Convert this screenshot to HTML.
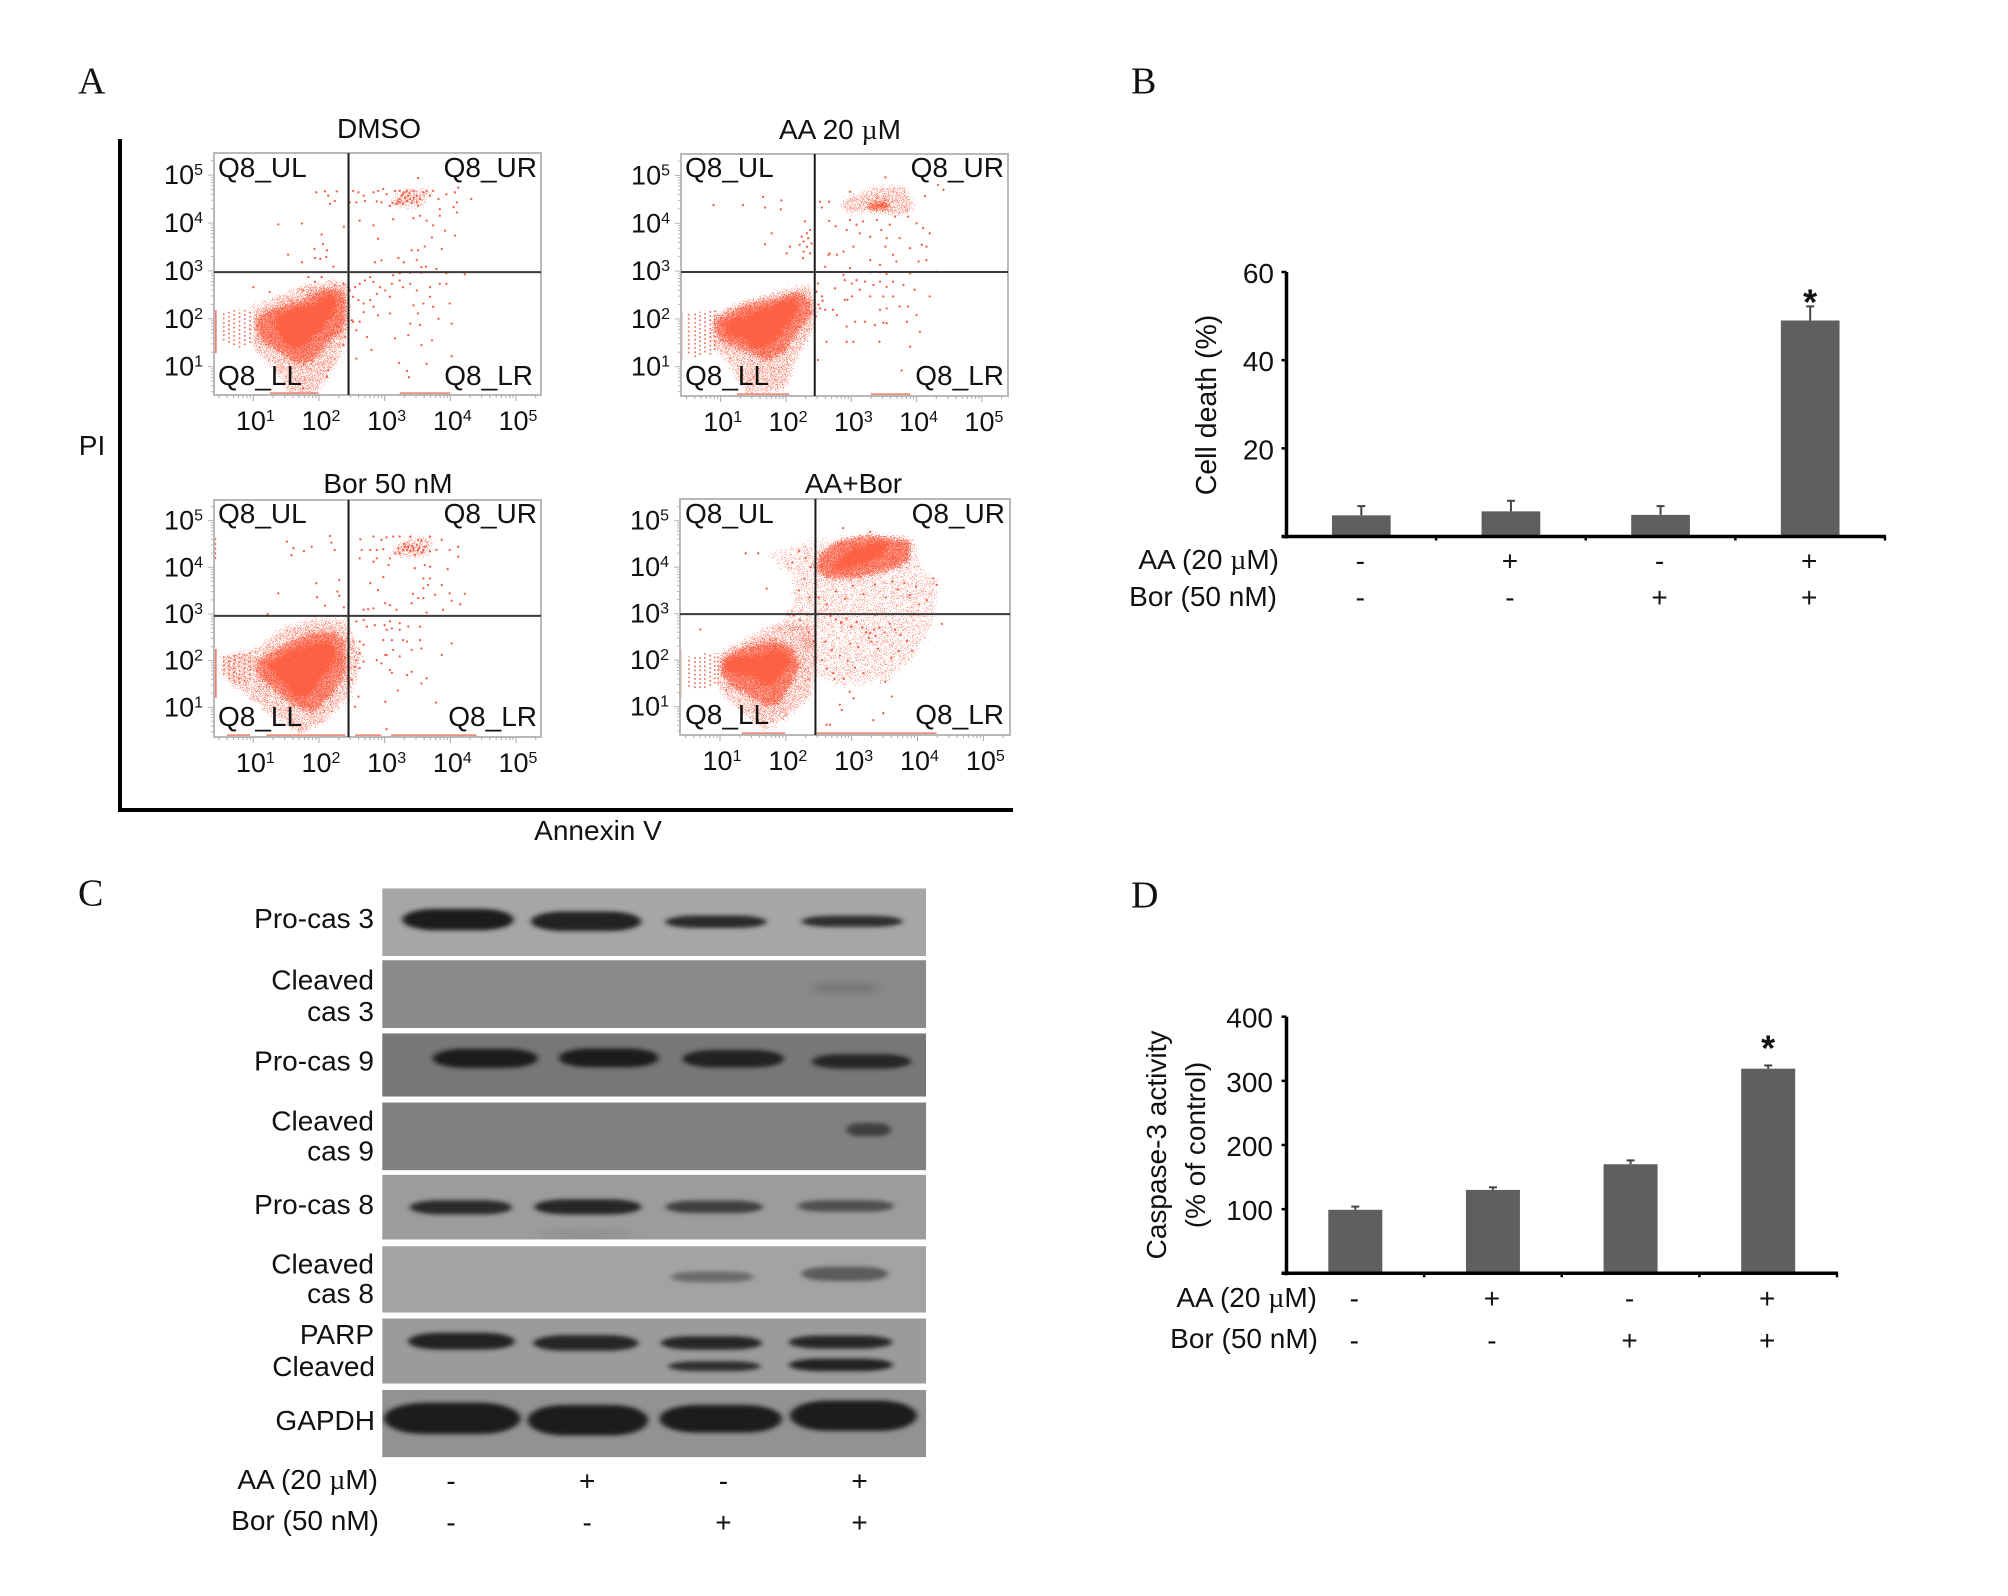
<!DOCTYPE html>
<html lang="en">
<head>
<meta charset="utf-8">
<title>Flow cytometry, cell death, immunoblot and caspase-3 activity figure</title>
<style>
html,body{margin:0;padding:0;background:#fff;}
svg{display:block;}
text{font-family:"Liberation Sans",sans-serif;fill:#111;}
.letter{font-family:"Liberation Serif",serif;font-size:38px;}
.t27{font-size:27px;}
.t28{font-size:28px;}
.end{text-anchor:end;}
.mid{text-anchor:middle;}
.mu{font-family:"Liberation Serif",serif;}
</style>
</head>
<body>
<svg id="figure" xmlns="http://www.w3.org/2000/svg" width="2008" height="1596" viewBox="0 0 2008 1596">
<defs>
<pattern id="grain-dense" width="7" height="7" patternUnits="userSpaceOnUse">
<rect width="7" height="7" fill="#ffc4b8"/>
<circle cx="1" cy="1.5" r="1.4" fill="#fa5c42"/><circle cx="4.5" cy="0.8" r="1.4" fill="#fa5c42"/><circle cx="2.8" cy="4" r="1.4" fill="#fa5c42"/><circle cx="6" cy="3.6" r="1.4" fill="#fa5c42"/><circle cx="0.8" cy="6" r="1.4" fill="#fa5c42"/><circle cx="4.6" cy="6.2" r="1.4" fill="#fa5c42"/>
</pattern>
<pattern id="grain-fringe" width="11" height="10" patternUnits="userSpaceOnUse">
<circle cx="1" cy="2" r="1.15" fill="#f4664e"/><circle cx="5" cy="1" r="1.15" fill="#f4664e"/><circle cx="9" cy="3" r="1.15" fill="#f4664e"/><circle cx="3" cy="5" r="1.15" fill="#f4664e"/><circle cx="7" cy="6" r="1.15" fill="#f4664e"/><circle cx="1.5" cy="8.5" r="1.15" fill="#f4664e"/><circle cx="5" cy="9" r="1.15" fill="#f4664e"/><circle cx="9.6" cy="8" r="1.15" fill="#f4664e"/>
</pattern>
<pattern id="grain-field" width="17" height="15" patternUnits="userSpaceOnUse">
<circle cx="2" cy="3" r="1.2" fill="#f0644e"/><circle cx="9" cy="1" r="1.2" fill="#f0644e"/><circle cx="14" cy="5" r="1.2" fill="#f0644e"/><circle cx="6" cy="7" r="1.2" fill="#f0644e"/><circle cx="11" cy="9" r="1.2" fill="#f0644e"/><circle cx="1" cy="11" r="1.2" fill="#f0644e"/><circle cx="15" cy="13" r="1.2" fill="#f0644e"/><circle cx="7" cy="13" r="1.2" fill="#f0644e"/>
</pattern>
<filter id="band-blur" x="-20%" y="-60%" width="140%" height="220%"><feGaussianBlur stdDeviation="5"/></filter>
<filter id="faint-blur" x="-30%" y="-100%" width="160%" height="300%"><feGaussianBlur stdDeviation="9"/></filter>
<filter id="speckle" x="-10%" y="-10%" width="120%" height="120%" color-interpolation-filters="sRGB">
<feTurbulence type="fractalNoise" baseFrequency="0.85" numOctaves="2" seed="4" result="noise"/>
<feDisplacementMap in="SourceGraphic" in2="noise" scale="18" xChannelSelector="R" yChannelSelector="G"/>
</filter>
</defs>

<text class="letter" x="78" y="93.5">A</text>
<text class="letter" x="1131" y="93.5">B</text>
<text class="letter" x="78" y="905.5">C</text>
<text class="letter" x="1131" y="907.5">D</text>

<g id="panel-a"></g>
<text class="t28 mid" x="379" y="138">DMSO</text>
<text class="t28 mid" x="840" y="139">AA 20 <tspan class="mu">µ</tspan>M</text>
<text class="t28 mid" x="388" y="493">Bor 50 nM</text>
<text class="t28 mid" x="853.5" y="493">AA+Bor</text>
<rect x="118" y="139" width="4" height="673" fill="#000"/>
<rect x="118" y="808" width="895" height="4" fill="#000"/>
<text class="t28 mid" x="92" y="455">PI</text>
<text class="t28 mid" x="598" y="840">Annexin V</text>

<g id="panel-b"></g>
<text class="t28 mid" style="font-size:28.5px" transform="translate(1216 405) rotate(-90)">Cell death (%)</text>
<text class="t28 end" x="1279" y="569">AA (20 <tspan class="mu">µ</tspan>M)</text>
<text class="t28 end" x="1277" y="606">Bor (50 nM)</text>

<g id="panel-c"></g>
<g>
<text class="t28 end" x="374" y="928">Pro-cas 3</text>
<text class="t28 end" x="374" y="989.5">Cleaved</text>
<text class="t28 end" x="374" y="1021">cas 3</text>
<text class="t28 end" x="374" y="1070.5">Pro-cas 9</text>
<text class="t28 end" x="374" y="1130.5">Cleaved</text>
<text class="t28 end" x="374" y="1160.5">cas 9</text>
<text class="t28 end" x="374" y="1214">Pro-cas 8</text>
<text class="t28 end" x="374" y="1273.5">Cleaved</text>
<text class="t28 end" x="374" y="1303">cas 8</text>
<text class="t28 end" x="374" y="1344">PARP</text>
<text class="t28 end" x="375" y="1376">Cleaved</text>
<text class="t28 end" x="375" y="1430">GAPDH</text>
<text class="t28 end" x="378" y="1489">AA (20 <tspan class="mu">µ</tspan>M)</text>
<text class="t28 end" x="379" y="1530">Bor (50 nM)</text>
</g>

<g id="panel-d"></g>
<text class="t28 mid" transform="translate(1166 1145) rotate(-90)">Caspase-3 activity</text>
<text class="t28 mid" transform="translate(1205 1145) rotate(-90)">(% of control)</text>
<text class="t28 end" x="1317" y="1307">AA (20 <tspan class="mu">µ</tspan>M)</text>
<text class="t28 end" x="1318" y="1348">Bor (50 nM)</text>
</svg>

<script>
// ---- Flow cytometry values: every coordinate is [log10 Annexin V, log10 PI] ----
const tickExponents = [1, 2, 3, 4, 5];
const quadrantNames = ['Q8_UL', 'Q8_UR', 'Q8_LL', 'Q8_LR'];

const dmsoCore = [[1.33,2.04],[1.66,2.25],[1.91,2.32],[2.14,2.52],[2.29,2.39],[2.24,2.11],[2.07,1.83],[1.91,1.62],[1.76,1.38],[1.56,1.38],[1.41,1.62],[1.33,1.83]];
const dmsoHalo = [[1.05,2.04],[1.36,2.25],[1.71,2.39],[2.07,2.63],[2.37,2.59],[2.42,2.25],[2.38,1.75],[2.12,1.5],[1.92,1.1],[1.66,1.05],[1.41,1.3],[1.15,1.49],[1.05,1.76]];
const dmsoFringe = [[1,2.25],[1.71,2.66],[2.22,2.8],[2.45,2.73],[2.47,1.83],[2.32,1.21],[1.96,0.45],[1.56,0.45],[1.3,1],[1,1.42]];
const dmsoCluster = [[3.05,4.4],[3.3,4.7],[3.7,4.7],[3.6,4.38],[3.2,4.33]];
const dmsoColumns = [[0.55,1.55,2.12],[0.63,1.5,2.15],[0.71,1.45,2.18],[0.79,1.4,2.2],[0.87,1.45,2.2],[0.95,1.5,2.18]];
const dmsoLeftRug = [0.42,1.28,2.18];
const dmsoBottomRug = [[1.25,1.99],[3.23,4.0]];
const dmsoPoints = [[1.96,4.64],[2.09,4.66],[2.14,4.57],[2.27,4.66],[2.24,4.46],[2.17,4.4],[2.45,4.64],[2.52,4.67],[2.47,4.43],[2.6,4.64],[2.68,4.57],[2.57,4.43],[2.7,4.46],[2.83,4.64],[2.9,4.67],[2.98,4.71],[2.88,4.45],[3.03,4.6],[2.95,4.43],[3.08,4.36],[3.18,4.4],[3.23,4.43],[3.28,4.4],[3.16,4.67],[3.23,4.67],[3.28,4.6],[3.34,4.67],[3.36,4.57],[3.39,4.5],[3.44,4.67],[3.49,4.57],[3.54,4.5],[3.51,4.36],[3.59,4.64],[3.64,4.67],[3.69,4.57],[3.74,4.67],[3.82,4.5],[3.84,4.29],[3.94,4.6],[4.07,4.64],[4.12,4.74],[4.32,4.5],[4.1,4.43],[4.05,4.33],[4.1,4.22],[3.51,4.94],[3.26,4.57],[3.31,4.53],[3.34,4.46],[3.23,4.5],[3.44,4.53],[3.49,4.43],[3.3,4.64],[3.38,4.62],[3.2,4.45],[3.12,4.42],[3.41,4.42],
[2.62,4.05],[3.13,4.08],[3.44,4.1],[3.54,4.15],[3.64,4.05],[3.74,3.95],[3.84,4.15],[3.92,3.84],[4.07,3.74],[3.72,3.7],[2.9,3.67],[2.83,3.95],[3.41,3.43],[3.51,3.43],[3.61,3.51],[3.87,3.46],[3.21,3.27],[3.29,3.18],[3.49,3.23],[2.95,3.22],[2.85,3.18],[3.56,3.08],[3.63,3.09],[3.79,3.04],
[3.23,2.95],[3.39,2.96],[3.56,2.96],[3.94,2.95],[4.22,2.93],[3.13,2.91],[2.78,2.97],
[1.38,3.97],[1.74,3.99],[2.04,3.76],[2.06,3.56],[1.93,3.46],[2.12,3.43],[1.53,3.34],[1.94,3.27],[2.02,3.25],[2.11,3.29],[1.74,3.18],[2.22,3.09],[2.38,3.92],
[2.55,2.66],[2.62,2.73],[2.7,2.8],[2.78,2.87],[2.83,2.77],[2.47,2.59],[2.52,2.46],[2.6,2.39],[2.68,2.32],[2.78,2.39],[2.88,2.52],[3.01,2.59],[3.08,2.46],[2.93,2.66],[3.11,2.73],[3.23,2.8],[3.28,2.66],[3.39,2.73],[3.49,2.59],[3.69,2.66],[3.84,2.73],[3.94,2.73],[3.69,2.46],[3.59,2.32],[3.44,2.28],[3.51,2.11],[3.74,2.25],[3.99,2.32],[3.82,2],[4.02,1.9],[3.39,1.9],[3.54,1.87],[3.08,2.11],[2.9,2.07],[2.68,2.14],[2.62,1.94],[2.52,1.94],[2.83,2.25],[3.16,1.59],[3.36,1.66],[3.72,1.55],[2.8,1.35],[2.57,1.17],[3.22,1.08],[3.34,0.91],[3.37,0.78],[3.64,1.06],[4.02,1.22],[3.56,1.45],[2.73,1.62],[2.57,1.76],
[2.45,2.39],[2.45,2.18],[2.5,1.97],[2.4,1.62],[2.37,1.45],[2.37,2.73],[2.24,2.7],[1,2.66],[1.25,2.56],[1.84,2.87],[1.94,2.77],[2.04,2.87],[1.76,2.59],[1.76,0.55],[2.14,0.93],[2.12,0.79]];

const aaCore = [[1.04,1.91],[1.3,2.05],[1.6,2.19],[1.86,2.33],[2.14,2.43],[2.19,2.19],[2.01,1.84],[1.86,1.56],[1.7,1.38],[1.5,1.38],[1.32,1.59],[1.09,1.66]];
const aaHalo = [[0.91,1.98],[1.35,2.29],[1.76,2.4],[2.19,2.57],[2.37,2.4],[2.39,2.12],[2.21,1.77],[1.96,1.28],[1.7,1.14],[1.4,1.31],[1.09,1.49],[0.91,1.7]];
const aaFringe = [[0.91,2.12],[1.45,2.4],[1.96,2.6],[2.37,2.67],[2.47,2.26],[2.42,1.84],[2.11,1],[1.96,0.55],[1.4,0.44],[1.09,1.14],[0.84,1.49]];
const aaClusterHalo = [[2.83,4.42],[3.23,4.7],[3.8,4.77],[3.97,4.38],[3.8,4.17],[3.29,4.24],[2.88,4.24]];
const aaClusterCore = [[3.23,4.38],[3.44,4.45],[3.59,4.42],[3.57,4.31],[3.29,4.29]];
const aaColumns = [[0.51,1.28,2.12],[0.61,1.2,2.15],[0.68,1.25,2.15],[0.76,1.3,2.18],[0.84,1.25,2.18],[0.91,1.35,2.18]];
const aaLeftRug = [0.39,1.14,2.15];
const aaBottomRug = [[1.25,2.05],[3.3,3.9]];
const aaPoints = [[3.52,4.96],[4.33,4.8],[4.41,4.7],[4.13,4.57],[2.98,4.66],[2.52,4.45],[2.55,4.33],[2.66,4.45],[2.66,4.05],[2.76,3.94],[2.93,3.86],[2.98,4.07],[3.08,3.97],[3.18,4.04],[3.39,4.07],[3.46,3.86],[3.59,3.97],[3.67,4.14],[3.87,4.14],[4,4],[4.1,3.9],[4.2,3.79],[3.74,3.69],[3.54,3.69],[3.29,3.72],[3.13,3.79],[3.03,3.51],[2.88,3.41],[2.67,3.37],[2.78,3.34],[3.52,3.51],[3.64,3.34],[3.9,3.48],[4.08,3.55],[4.15,3.51],[3.29,3.23],[3.44,3.13],[3.69,3.2],[4.03,3.2],[4.15,3.23],[2.6,3.09],[2.98,3.06],[2.65,3.34],
[0.89,4.38],[1.34,4.38],[1.65,4.55],[1.68,4.33],[1.93,4.48],[1.92,4.29],[1.78,3.79],[1.68,3.56],[2.06,3.51],[2.01,3.37],[2.29,4.04],[2.37,3.86],[2.32,3.79],[2.24,3.72],[2.34,3.69],[2.27,3.62],[2.21,3.55],[2.32,3.51],[2.27,3.41],[2.37,3.37],[2.26,3.27],[2.39,3.58],[0.39,4.33],
[3.29,2.97],[3.44,2.97],[3.54,2.94],[3.9,2.95],[4.31,2.99],[2.88,2.92],
[2.49,2.74],[2.55,2.47],[2.47,2.57],[2.6,2.19],[2.72,2.19],[2.75,2.64],[2.9,2.81],[3.01,2.74],[3.08,2.81],[3.21,2.78],[3.34,2.71],[3.44,2.78],[3.54,2.67],[3.64,2.78],[3.8,2.71],[3.97,2.61],[4.2,2.47],[2.9,2.4],[3.01,2.47],[3.13,2.61],[3.29,2.47],[3.49,2.47],[3.64,2.47],[3.74,2.26],[3.87,2.26],[3.54,2.22],[3.44,2.19],[4,2.08],[3.85,1.94],[3.54,1.91],[3.36,1.87],[3.21,1.94],[3.06,1.94],[2.93,1.84],[2.78,2.08],[2.93,1.52],[3.03,1.52],[3.43,1.52],[3.9,1.42],[4.05,1.73],[2.62,1.52],[2.49,1.14],[3.77,0.92],[3.49,1.92],[2.94,2.4],[2.5,2.3],[2.52,2.22],[2.56,2.38],[2.46,2.05]];

const borCore = [[1.18,1.91],[1.41,2.09],[1.66,2.26],[1.86,2.34],[2.14,2.44],[2.27,2.23],[2.24,1.94],[2.07,1.69],[1.96,1.44],[1.81,1.19],[1.63,1.23],[1.48,1.51],[1.3,1.73]];
const borHalo = [[1.05,1.98],[1.41,2.3],[1.86,2.59],[2.22,2.62],[2.4,2.44],[2.42,1.8],[2.22,1.3],[1.91,0.87],[1.56,1.09],[1.2,1.51],[1.03,1.8]];
const borFringe = [[0.54,2.09],[1.05,2.23],[1.41,2.66],[1.91,2.87],[2.42,2.87],[2.62,2.09],[2.52,1.37],[2.12,0.73],[1.71,0.44],[1.2,0.94],[0.8,1.37],[0.54,1.66]];
const borCluster = [[3.1,4.32],[3.4,4.62],[3.75,4.6],[3.65,4.25],[3.3,4.22]];
const borColumns = [[0.55,1.7,2.1],[0.63,1.6,2.12],[0.71,1.55,2.14],[0.79,1.5,2.16],[0.87,1.55,2.18],[0.95,1.6,2.2]];
const borLeftRug = [0.42,1.2,2.25];
const borBottomRug = [[0.6,0.95],[1.2,2.4],[2.55,2.95],[3.1,4.4]];
const borPoints = [[2.63,4.6],[2.65,4.37],[2.62,4.19],[2.78,4.37],[2.88,4.37],[2.98,4.39],[2.83,4.66],[2.95,4.59],[3.03,4.64],[3.13,4.66],[3.23,4.66],[3.39,4.66],[3.51,4.59],[3.69,4.66],[3.87,4.59],[4.12,4.44],[4.12,4.23],[3.99,4.37],[3.79,4.37],[3.69,4.34],[3.59,4.37],[3.51,4.37],[3.44,4.41],[3.36,4.44],[3.28,4.37],[3.21,4.41],[3.16,4.3],[3.08,4.19],[3.06,4.05],[2.88,4.19],[2.83,4.12],[3.31,4.44],[3.44,4.36],[3.49,4.48],[3.56,4.57],[3.61,4.44],[3.39,4.34],[3.46,4.26],[3.23,4.3],[3.46,3.98],[3.61,4.05],[3.69,4.01],[3.96,3.96],[3.59,3.76],[3.69,3.76],[3.66,3.62],[3.59,3.55],[3.87,3.62],[3.43,3.43],[3.51,3.34],[3.59,3.34],[3.77,3.41],[3.99,3.44],[4.22,3.43],[4.02,3.28],[4.15,3.21],[3.41,3.23],[3.89,3.09],[2.98,3.79],[2.78,3.66],[2.9,3.51],[3.08,3.19],[3.01,3.23],[2.68,3.09],[2.75,3.1],[2.83,3.12],[3.18,3.09],[3.64,3.03],[3.34,4.38],[3.42,4.46],[3.3,4.5],[3.53,4.42],[3.57,4.32],
[1.51,4.55],[1.61,4.41],[1.58,4.26],[1.77,4.35],[1.89,4.44],[2.17,4.67],[2.19,4.53],[2.24,4.37],[1.38,3.44],[1.96,3.66],[1.97,3.36],[2.09,3.18],[2.31,3.73],[2.28,3.48],[2.31,3.39],[2.38,3.14],[1.22,3],[0.42,4.6],[0.42,4.5],[0.42,4.4],[0.42,4.3],[0.42,4.2],
[2.68,2.87],[2.73,2.73],[2.85,2.76],[2.57,2.84],[3,2.76],[3.08,2.84],[3.23,2.8],[3.03,2.66],[3.11,2.69],[3.23,2.66],[3.36,2.73],[3.54,2.73],[2.98,2.44],[3.11,2.44],[3.28,2.44],[3.34,2.41],[3.54,2.44],[3.56,2.26],[3.41,2.23],[3.13,2.23],[3.03,2.12],[3.23,2.09],[3.01,2.12],[3.87,2.12],[4.02,2.37],[2.88,2.01],[2.95,1.94],[3.08,1.8],[3.11,1.74],[3.34,1.69],[3.41,1.76],[3.56,1.51],[3.64,1.62],[3.2,1.36],[3.01,1.12],[3.78,1.1],[3.03,0.53],[2.62,2.41],[2.68,2.34],[2.62,2.16],[2.57,2.01],[2.68,1.98],[2.55,1.87],[2.62,1.84],[2.5,1.59],[2.6,1.23],[2.55,1.01],[2.45,2.09]];

const comboCore = [[1.05,2],[1.33,2.11],[1.63,2.11],[1.86,2.25],[2.04,2.14],[2.06,1.93],[1.94,1.68],[1.81,1.47],[1.71,1.43],[1.53,1.61],[1.33,1.68],[1.08,1.75]];
const comboHalo = [[1.03,2.04],[1.38,2.29],[1.81,2.43],[2.11,2.29],[2.22,1.93],[2.11,1.57],[1.91,1.07],[1.71,1],[1.46,1.22],[1.2,1.43],[1,1.72]];
const comboFringe = [[1,2.15],[1.46,2.51],[1.91,2.79],[2.37,2.79],[2.47,2.08],[2.37,1.22],[1.96,0.71],[1.66,0.5],[1.25,1],[1,1.36]];
const comboClusterCore = [[2.72,4.05],[3.03,4.44],[3.28,4.51],[3.58,4.58],[3.53,4.33],[3.28,4.12],[2.97,3.97],[2.72,3.94]];
const comboClusterHalo = [[2.52,4.3],[2.82,4.58],[3.28,4.69],[3.89,4.58],[3.89,4.15],[3.58,3.94],[3.08,3.76],[2.62,3.76],[2.47,3.94]];
const comboField = [[1.76,4.23],[2.37,4.58],[3.94,4.62],[4.09,3.8],[4.29,3.72],[4.29,3.15],[4.14,2.58],[3.89,2],[3.53,1.57],[2.82,1.43],[2.47,1.65],[2.37,2.22],[1.96,2.79],[2.11,3.37],[2.11,3.8]];
const comboColumns = [[0.53,1.43,2.08],[0.62,1.4,2.1],[0.7,1.4,2.12],[0.77,1.4,2.15],[0.85,1.45,2.15],[0.92,1.5,2.15],[0.97,1.5,2.15]];
const comboLeftRug = [0.39,1.18,2.22];
const comboBottomRug = [[1.33,1.99],[2.47,4.29]];
const comboPoints = [[3.28,4.76],[2.87,4.84],[1.58,4.3],[1.39,4.3],[1.71,3.54],[0.39,3.54],[0.7,2.66],[4.37,2.78],[4.24,3.76],[4.29,3.62],[4.14,3.29],[3.61,1.22],[3.48,0.86],[3.33,0.71],[2.97,1.32],[3.03,1.18],[2.82,1.04],[2.85,0.93],[2.62,0.61],[2.67,0.61],[3.51,1.54],[2.72,1.72],
[2.68,2.95],[2.76,2.88],[2.84,2.82],[2.92,2.9],[3,2.72],[3.08,2.82],[3.16,2.7],[3.22,2.6],[3.28,2.58],[3.34,2.66],[3.26,2.48],[3.3,2.4],[3.36,2.52],[3.42,2.7],[3.5,2.6],[3.58,2.78],[3.66,2.66],[3.74,2.54],[3.84,2.42],[3.92,2.2],[2.6,2.4],[2.7,2.22],[2.82,2.1],[2.94,1.98],[3.05,1.84],[3.18,1.72],[2.55,2],[2.62,1.82],[2.74,1.6],[2.88,1.6],[3.4,2.25],[3.6,2.05],[3.72,2.2],[3.1,2.28],[2.98,2.36],[2.5,3.35],[2.62,3.2],[2.76,3.48],[2.9,3.32],[3.02,3.6],[3.18,3.42],[3.35,3.62],[3.52,3.35],[3.7,3.52],[3.88,3.4],[4.02,3.2],[3.62,3.7],[3.8,3.66],[3.98,3.58],[2.2,3.5],[2.28,3.75],[2.36,3.35],[2.3,4.2],[2.38,4],[2.2,4.35],[2.1,4.1],[2.32,2.98],[2.22,2.86],[2.12,2.96],[2.35,2.6],[2.42,2.4],[2.45,1.95]];

// ---- Bar chart values ----
const treatments = ['control', 'aa', 'bor', 'aa-bor'];
const aaSigns = ['-', '+', '-', '+'];
const borSigns = ['-', '-', '+', '+'];
const deathTicks = [0, 20, 40, 60];
const deathMeans = [4.8, 5.7, 4.9, 49];
const deathUpper = [6.9, 8.1, 6.9, 52.2];
const caspaseTicks = [0, 100, 200, 300, 400];
const caspaseMeans = [99, 130, 170, 319];
const caspaseUpper = [104, 134, 176, 324];

// ---- Blot values: background grey per strip and bands as [left lane edge, right lane edge, centre, height, grey] ----
const blotGreys = ['#a6a6a6', '#8a8a8a', '#777777', '#818181', '#9c9c9c', '#a3a3a3', '#9b9b9b', '#929292'];
const blotTop = [63, 224, 388, 543, 705, 865, 1027, 1187];
const blotBottom = [215, 376, 530, 695, 850, 1014, 1173, 1338];
const blotBands = [
 [[598,792,133,48,'#1f1f1f'],[822,1014,137,44,'#222222'],[1056,1232,138,28,'#2a2a2a'],[1293,1469,137,25,'#2d2d2d']],
 [[1310,1430,287,22,'#747474']],
 [[651,834,444,43,'#1c1c1c'],[871,1044,443,42,'#1e1e1e'],[1086,1262,445,39,'#202020'],[1311,1484,451,33,'#252525']],
 [[1371,1449,604,30,'#3f3f3f']],
 [[611,789,778,32,'#2b2b2b'],[828,1014,777,34,'#262626'],[1056,1226,777,28,'#3f3f3f'],[1286,1454,775,26,'#4f4f4f'],[835,1000,837,13,'#8a8a8a']],
 [[1066,1209,934,24,'#6b6b6b'],[1293,1444,927,32,'#5c5c5c']],
 [[608,794,1078,38,'#222222'],[826,1009,1082,35,'#252525'],[1048,1224,1082,30,'#262626'],[1271,1451,1080,29,'#282828'],[1061,1222,1134,22,'#2e2e2e'],[1271,1452,1131,28,'#222222']],
 [[566,804,1251,70,'#1c1c1c'],[816,1026,1255,68,'#1c1c1c'],[1046,1259,1252,62,'#1f1f1f'],[1273,1494,1245,68,'#1c1c1c']]
];

const SVG_NS = 'http://www.w3.org/2000/svg';

function make(parent, tag, attrs, name) {
  const el = document.createElementNS(SVG_NS, tag);
  for (const key in attrs) el.setAttribute(key, attrs[key]);
  
  
  parent.appendChild(el);
  return el;
}

function label(parent, x, y, content, cls, name) {
  const el = make(parent, 'text', {x: x, y: y, class: cls}, name);
  el.textContent = content;
  return el;
}

const flowPanels = [
  {id:'dmso', box:[214,153,541,395], x1:253.3, dx:65.67, y1:366.7, dy:47.9, gateX:2.45, gateY:2.975,
   core:[dmsoCore], halo:[dmsoHalo], fringe:[dmsoFringe, dmsoCluster], field:[], columns:dmsoColumns, leftRug:dmsoLeftRug, bottomRug:dmsoBottomRug, points:dmsoPoints,
   q:[[218,177,'start'],[537,177,'end'],[218,385,'start'],[533,385,'end']]},
  {id:'aa', box:[681,154,1008,396], x1:720.7, dx:65.3, y1:366.7, dy:47.8, gateX:2.44, gateY:2.98,
   core:[aaCore, aaClusterCore], halo:[aaHalo], fringe:[aaFringe, aaClusterHalo], field:[], columns:aaColumns, leftRug:aaLeftRug, bottomRug:aaBottomRug, points:aaPoints,
   q:[[685,177,'start'],[1004,177,'end'],[685,385,'start'],[1004,385,'end']]},
  {id:'bor', box:[214,500,541,737], x1:253.3, dx:65.67, y1:707.3, dy:46.67, gateX:2.45, gateY:2.96,
   core:[borCore], halo:[borHalo], fringe:[borFringe, borCluster], field:[], columns:borColumns, leftRug:borLeftRug, bottomRug:borBottomRug, points:borPoints,
   q:[[218,523,'start'],[537,523,'end'],[218,726,'start'],[537,726,'end']]},
  {id:'aa-bor', box:[680,499,1010,735], x1:720, dx:65.83, y1:706.7, dy:46.5, gateX:2.45, gateY:2.99,
   core:[comboCore, comboClusterCore], halo:[comboHalo, comboClusterHalo], fringe:[comboFringe], field:[comboField], columns:comboColumns, leftRug:comboLeftRug, bottomRug:comboBottomRug, points:comboPoints,
   q:[[685,523,'start'],[1005,523,'end'],[685,724,'start'],[1004,724,'end']]}
];

function drawFlow(p, root) {
  const g = make(root, 'g', {}, p.id + '-scatter-plot');
  const xS = v => p.x1 + (v - 1) * p.dx;
  const yS = v => p.y1 - (v - 1) * p.dy;
  const [bx0, by0, bx1, by1] = p.box;
  const clip = make(g, 'clipPath', {id: 'clip-' + p.id}, p.id + '-clip');
  make(clip, 'rect', {x: bx0, y: by0, width: bx1 - bx0, height: by1 - by0}, p.id + '-clip-rect');
  const marks = make(g, 'g', {'clip-path': 'url(#clip-' + p.id + ')'}, p.id + '-events');
  const density = make(marks, 'g', {filter: 'url(#speckle)'}, p.id + '-density-regions');
  const poly = (pts, fill, name) => make(density, 'polygon', {points: pts.map(d => xS(d[0]).toFixed(1) + ',' + yS(d[1]).toFixed(1)).join(' '), fill: fill}, name);

  p.field.forEach(a => poly(a, 'url(#grain-field)', p.id + '-diffuse-events'));
  p.fringe.forEach(a => poly(a, 'url(#grain-fringe)', p.id + '-sparse-events'));
  p.halo.forEach(a => poly(a, 'url(#grain-dense)', p.id + '-dense-events'));
  p.core.forEach(a => poly(a, '#fd6143', p.id + '-population-core'));

  p.columns.forEach(c => {
    make(marks, 'line', {x1: xS(c[0]), x2: xS(c[0]), y1: yS(c[1]), y2: yS(c[2]), stroke: '#ef6f5a', 'stroke-width': 1.7, 'stroke-dasharray': '1.6 2.6'}, p.id + '-low-channel-column');
  });
  make(marks, 'line', {x1: xS(p.leftRug[0]), x2: xS(p.leftRug[0]), y1: yS(p.leftRug[1]), y2: yS(p.leftRug[2]), stroke: '#ef8572', 'stroke-width': 3}, p.id + '-left-edge-events');
  p.bottomRug.forEach(r => {
    make(marks, 'line', {x1: xS(r[0]), x2: xS(r[1]), y1: by1 - 1.5, y2: by1 - 1.5, stroke: '#ef8f7e', 'stroke-width': 2.5}, p.id + '-bottom-edge-events');
  });
  p.points.forEach(d => {
    make(marks, 'circle', {cx: xS(d[0]).toFixed(1), cy: yS(d[1]).toFixed(1), r: 1.15, fill: '#f0604a'}, p.id + '-event');
  });

  make(g, 'rect', {x: bx0, y: by0, width: bx1 - bx0, height: by1 - by0, fill: 'none', stroke: '#b9b9b9', 'stroke-width': 2}, p.id + '-plot-frame');

  for (let e = 0; e <= 5; e++) {
    for (let k = 1; k <= 9; k++) {
      const v = e + Math.log10(k);
      const len = k === 1 ? 6 : 3;
      const tx = xS(v), ty = yS(v);
      if (tx > bx0 && tx < bx1) make(g, 'line', {x1: tx, x2: tx, y1: by1, y2: by1 + len, stroke: '#a8a8a8', 'stroke-width': 1}, p.id + '-x-tick');
      if (ty > by0 && ty < by1) make(g, 'line', {x1: bx0 - len, x2: bx0, y1: ty, y2: ty, stroke: '#b4b4b4', 'stroke-width': 1}, p.id + '-y-tick');
    }
  }

  make(g, 'line', {x1: xS(p.gateX), x2: xS(p.gateX), y1: by0, y2: by1, stroke: '#1a1a1a', 'stroke-width': 2}, p.id + '-vertical-gate');
  make(g, 'line', {x1: bx0, x2: bx1, y1: yS(p.gateY), y2: yS(p.gateY), stroke: '#3a3a3a', 'stroke-width': 2}, p.id + '-horizontal-gate');

  quadrantNames.forEach((q, i) => {
    const t = label(g, p.q[i][0], p.q[i][1], q, 't28', p.id + '-quadrant-label');
    t.setAttribute('text-anchor', p.q[i][2]);
  });

  tickExponents.forEach(e => {
    const xl = make(g, 'text', {x: xS(e) + 2, y: by1 + 35, class: 't27 mid'}, p.id + '-x-tick-label');
    xl.textContent = '10';
    make(xl, 'tspan', {dy: -9, 'font-size': 16}, p.id + '-x-tick-exponent').textContent = String(e);
    const yl = make(g, 'text', {x: bx0 - 11, y: yS(e) + 9, class: 't27 end'}, p.id + '-y-tick-label');
    yl.textContent = '10';
    make(yl, 'tspan', {dy: -9, 'font-size': 16}, p.id + '-y-tick-exponent').textContent = String(e);
  });
}

function drawBars(root, o) {
  const yS = v => o.base - (v / o.max) * (o.base - o.top);
  const xEdge = i => o.left + i * (o.right - o.left) / o.means.length;
  const xC = i => xEdge(i + 0.5);

  o.means.forEach((m, i) => {
    const cx = xC(i);
    make(root, 'line', {x1: cx, x2: cx, y1: yS(o.upper[i]), y2: yS(m), stroke: '#444', 'stroke-width': 2}, o.key + '-error-bar');
    make(root, 'line', {x1: cx - 4, x2: cx + 4, y1: yS(o.upper[i]), y2: yS(o.upper[i]), stroke: '#444', 'stroke-width': 2}, o.key + '-error-cap');
    make(root, 'rect', {x: cx - o.barW / 2, y: yS(m), width: o.barW, height: o.base - yS(m), fill: '#5f5f5f'}, o.key + '-bar-' + treatments[i]);
    label(root, cx - 1, o.aaY, aaSigns[i], 't28 mid', o.key + '-aa-sign');
    label(root, cx - 1, o.borY, borSigns[i], 't28 mid', o.key + '-bor-sign');
  });

  make(root, 'line', {x1: o.left, x2: o.left, y1: o.top, y2: o.base + 2, stroke: '#000', 'stroke-width': 3.5}, o.key + '-y-axis-line');
  make(root, 'line', {x1: o.left - 5, x2: o.right + 1, y1: o.base, y2: o.base, stroke: '#000', 'stroke-width': 3.5}, o.key + '-x-axis-line');

  o.ticks.forEach(t => {
    make(root, 'line', {x1: o.left - 5, x2: o.left, y1: yS(t), y2: yS(t), stroke: '#000', 'stroke-width': 2.5}, o.key + '-y-tick');
    if (t !== 0) label(root, o.labelX, yS(t) + 11, String(t), 't28 end', o.key + '-y-tick-label');
  });
  for (let i = 1; i <= o.means.length; i++) {
    make(root, 'line', {x1: xEdge(i), x2: xEdge(i), y1: o.base, y2: o.base + 4, stroke: '#000', 'stroke-width': 2.5}, o.key + '-x-tick');
  }
  const star = label(root, xC(3), o.starY, '*', 't28 mid', o.key + '-significance-marker');
  star.setAttribute('style', 'font-size:36px;font-weight:bold');
}

function drawBlot(root) {
  const g = make(root, 'g', {transform: 'translate(58.8 860.2) scale(0.5744 0.4462)'}, 'blot-strips');
  blotGreys.forEach((grey, i) => {
    const h = blotBottom[i] - blotTop[i];
    const clip = make(g, 'clipPath', {id: 'strip-' + i}, 'blot-strip-clip');
    make(clip, 'rect', {x: 563, y: blotTop[i], width: 947, height: h}, 'blot-strip-clip-rect');
    const strip = make(g, 'g', {'clip-path': 'url(#strip-' + i + ')'}, 'blot-strip-' + i);
    make(strip, 'rect', {x: 563, y: blotTop[i], width: 947, height: h, fill: grey}, 'blot-strip-background');
    blotBands[i].forEach(b => {
      const faint = b[3] < 23 && (b[4] === '#747474' || b[4] === '#8a8a8a');
      const w = b[1] - b[0];
      make(strip, 'rect', {x: b[0], y: b[2] - b[3] / 2, width: w, height: b[3], rx: w * 0.3, ry: b[3] / 2, fill: b[4], filter: faint ? 'url(#faint-blur)' : 'url(#band-blur)'}, 'blot-band');
    });
  });
  const laneX = i => 451 + 136.2 * i;
  aaSigns.forEach((s, i) => {
    label(root, laneX(i), 1490.5, s, 't28 mid', 'blot-aa-sign');
    label(root, laneX(i), 1532, borSigns[i], 't28 mid', 'blot-bor-sign');
  });
}

const rootA = document.getElementById('panel-a');
flowPanels.forEach(p => drawFlow(p, rootA));

drawBars(document.getElementById('panel-b'), {
  key: 'cell-death', means: deathMeans, upper: deathUpper, ticks: deathTicks, max: 60,
  left: 1286.5, right: 1885, top: 272, base: 536.5, barW: 58.7, labelX: 1274, aaY: 570.5, borY: 607, starY: 314.5
});
drawBars(document.getElementById('panel-d'), {
  key: 'caspase', means: caspaseMeans, upper: caspaseUpper, ticks: caspaseTicks, max: 400,
  left: 1286.5, right: 1837, top: 1016.7, base: 1273.3, barW: 54, labelX: 1273, aaY: 1308, borY: 1350, starY: 1060.5
});
drawBlot(document.getElementById('panel-c'));
</script>
</body>
</html>
